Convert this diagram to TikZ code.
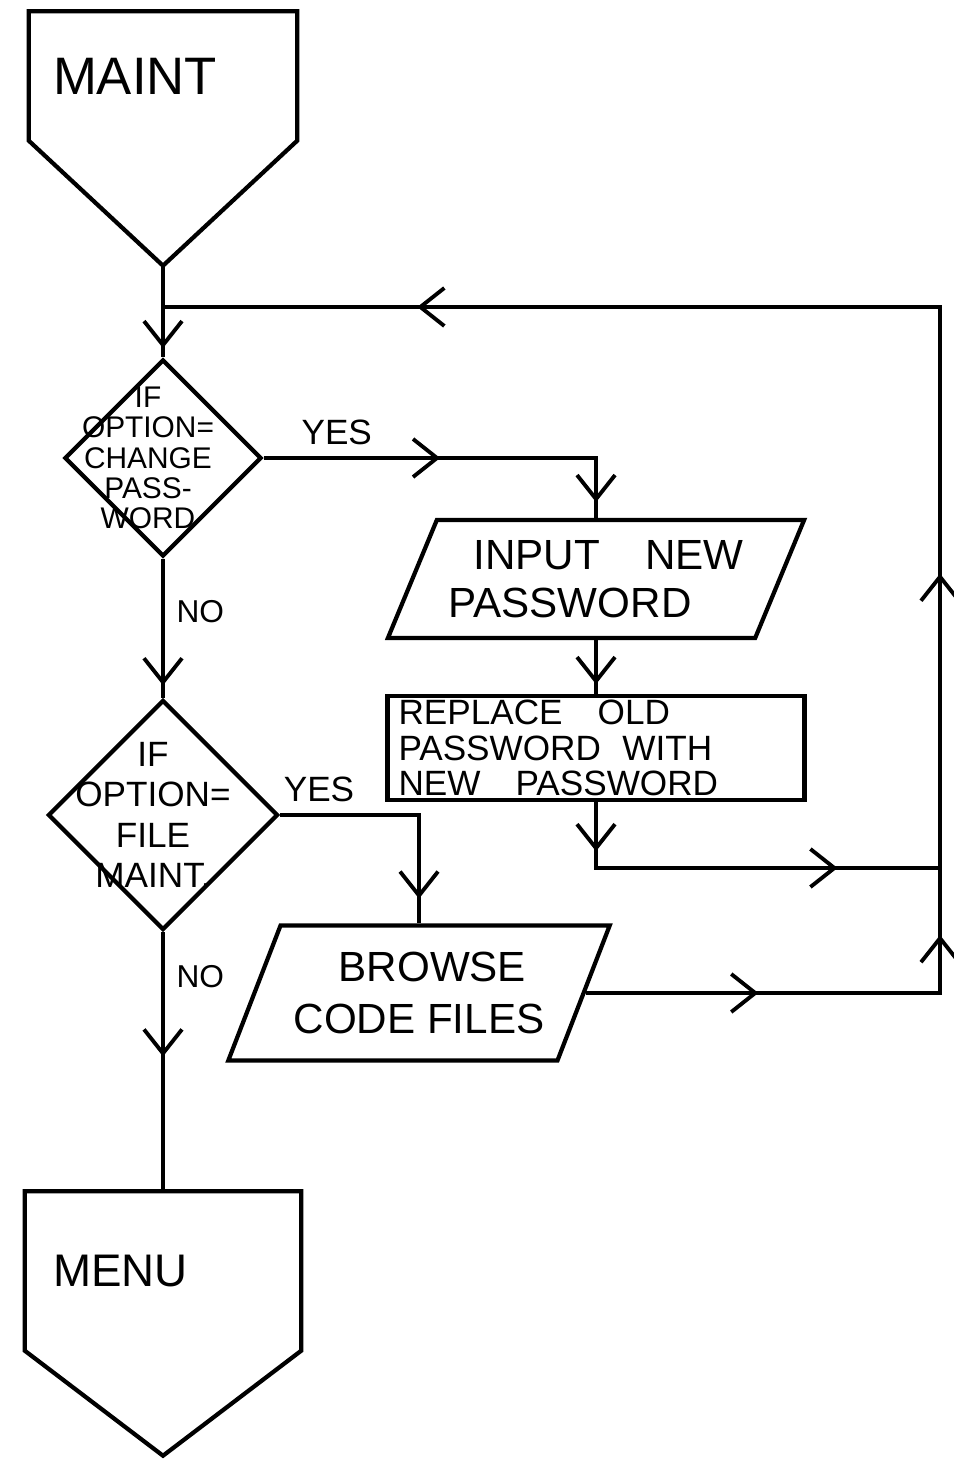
\documentclass[tikz,border=0pt]{standalone}
\usepackage{fontspec}
\setmainfont{Liberation Sans}
\usetikzlibrary{shapes.geometric, arrows.meta, calc, decorations.markings}

\begin{document}
\begin{tikzpicture}[
    offpage/.style={rectangle, inner sep=3pt, text width=2.2cm, align=left},
    decision/.style={diamond, draw, line width=1.2pt, inner sep=0pt, aspect=1},
    decisiontext/.style={align=center, inner sep=0pt, font=\fontsize{8.5}{8.6}\selectfont},
    io/.style={trapezium, trapezium left angle=64, trapezium right angle=116, trapezium stretches=true, draw, line width=1.2pt, align=left},
    process/.style={rectangle, draw, line width=1.2pt, inner sep=0.5pt, align=left},
    line/.style={line width=1.1pt},
    arrowat/.style={postaction={decorate, decoration={markings, mark=at position #1 with {\arrow{Straight Barb[length=2.4mm, width=3.8mm, line width=1.1pt]}}}}},
    lbl/.style={font=\fontsize{10}{10}\selectfont}
  ]
  \useasboundingbox (0,0) rectangle (9.54,-14.70);

  % Nodes
  \node (maint) [offpage, minimum width=2.67cm, minimum height=1.28cm, font=\fontsize{15}{18}\selectfont] at (1.63,-0.76) {MAINT};
  \coordinate (maint-tip) at ($(maint.south)+(0,-1.25)$);
  \node (ifpass) [decision, minimum width=1.97cm, minimum height=1.97cm,
    label={[decisiontext, xshift=-1.5mm]center:IF\\OPTION=\\CHANGE\\PASS-\\WORD}] at (1.63,-4.58) {};
  \node (input) [io, minimum width=3.97cm, minimum height=1.18cm, font=\fontsize{12}{13.5}\selectfont] at (5.96,-5.79) {\hspace*{0.25cm}INPUT\hspace{0.45cm}NEW\\PASSWORD};
  \node (replace) [process, minimum width=4.17cm, minimum height=1.04cm, text width=3.95cm, font=\fontsize{10}{10}\selectfont] at (5.96,-7.48) {REPLACE\quad OLD\\PASSWORD\; WITH\\NEW\quad PASSWORD};
  \node (iffile) [decision, minimum width=2.30cm, minimum height=2.30cm,
    label={[decisiontext, font=\fontsize{10}{11.5}\selectfont, xshift=-1mm]center:IF\\OPTION=\\FILE\\MAINT.}] at (1.63,-8.15) {};
  \node (browse) [io, minimum width=3.82cm, minimum height=1.35cm, font=\fontsize{12}{15}\selectfont] at (4.19,-9.93) {\hspace*{0.45cm}BROWSE\\CODE FILES};
  \node (menu) [offpage, minimum width=2.75cm, minimum height=1.58cm, font=\fontsize{13}{16}\selectfont] at (1.63,-12.71) {MENU};
  \coordinate (menu-tip) at ($(menu.south)+(0,-1.05)$);
  \coordinate (rjoin) at (9.40,-8.68);
  \coordinate (ltop) at (1.63,-3.07);

  % Connector outlines
  \draw[line width=1.2pt] (maint.north west) -- (maint.north east) -- (maint.south east) -- (maint-tip) -- (maint.south west) -- cycle;
  \draw[line width=1.2pt] (menu.north west) -- (menu.north east) -- (menu.south east) -- (menu-tip) -- (menu.south west) -- cycle;

  % Connections
  \draw[line, arrowat=0.9] (maint-tip) -- (ifpass.north);
  \draw[line, arrowat=0.45, arrowat=0.96] (ifpass.east) -| node[lbl, above, pos=0.11] {YES} (input.north);
  \draw[line, arrowat=0.82] (input.south) -- (replace.north);
  \draw[line, arrowat=0.12, arrowat=0.75] (replace.south) |- (rjoin);
  \draw[line, arrowat=0.36, arrowat=0.86] (browse.east) -| (rjoin);
  \draw[line, arrowat=0.22, arrowat=0.81] (rjoin) |- (ltop);
  \draw[line, arrowat=0.91] (ifpass.south) -- node[lbl, right, pos=0.38, font=\fontsize{9}{9}\selectfont] {NO} (iffile.north);
  \draw[line, arrowat=0.9] (iffile.east) -| node[lbl, above, pos=0.14] {YES} (browse.north);
  \draw[line, arrowat=0.48] (iffile.south) -- node[lbl, right, pos=0.17, font=\fontsize{9}{9}\selectfont] {NO} (menu.north);

\end{tikzpicture}
\end{document}
